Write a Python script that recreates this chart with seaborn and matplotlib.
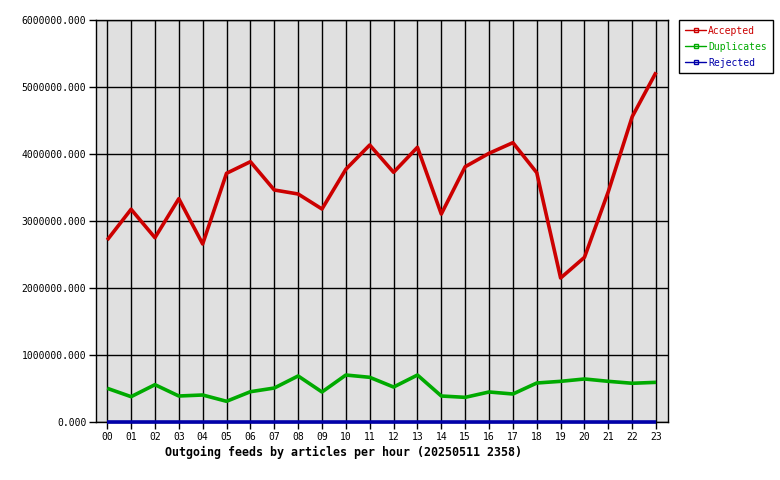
import matplotlib
matplotlib.use("Agg")
import matplotlib.pyplot as plt
from matplotlib.lines import Line2D
import seaborn as sns
import pandas as pd
import numpy as np

hours = list(range(24))
hour_labels = [f"{h:02d}" for h in hours]
accepted = [2.716, 3.175, 2.751, 3.333, 2.657, 3.712, 3.885, 3.463, 3.403, 3.179,
            3.772, 4.134, 3.727, 4.100, 3.104, 3.810, 4.010, 4.169, 3.721, 2.149,
            2.458, 3.440, 4.557, 5.219]
duplicates = [0.503, 0.378, 0.557, 0.388, 0.403, 0.309, 0.452, 0.507, 0.687, 0.448,
              0.701, 0.667, 0.522, 0.701, 0.388, 0.368, 0.448, 0.418, 0.582, 0.607,
              0.642, 0.607, 0.578, 0.592]
rejected = [0.0] * 24
series_names = ["Accepted", "Duplicates", "Rejected"]
colors = ["#cc0000", "#00aa00", "#0000aa"]
y_ticks = [0, 1e6, 2e6, 3e6, 4e6, 5e6, 6e6]

sns.set_theme(style="white")
plt.rcParams["font.family"] = ["DejaVu Sans Mono"]

df = pd.DataFrame({
    "hour": hours * 3,
    "value": [v * 1e6 for v in accepted + duplicates + rejected],
    "series": sum([[n] * 24 for n in series_names], []),
})

fig = plt.figure(figsize=(7.8, 4.8), dpi=100)
fig.patch.set_facecolor("white")
ax = fig.add_axes([96 / 780, 58 / 480, 572 / 780, 402 / 480])
ax.set_facecolor("#e0e0e0")

sns.lineplot(data=df, x="hour", y="value", hue="series", hue_order=series_names,
             palette=colors, linewidth=2.6, ax=ax, legend=False, zorder=3)
for ln in ax.get_lines():
    ln.set_clip_on(False)
    ln.set_solid_capstyle("butt")

ax.set_xlim(-0.47, 23.5)
ax.set_ylim(0, 6e6)
ax.set_xticks(hours)
ax.set_xticklabels(hour_labels)
ax.set_yticks(y_ticks)
ax.set_yticklabels([f"{t:.3f}" for t in y_ticks])
ax.grid(True, color="black", linewidth=1, zorder=1)
ax.set_axisbelow(True)
for s in ax.spines.values():
    s.set_color("black")
    s.set_linewidth(1)
    s.set_zorder(2)
ax.tick_params(axis="both", which="both", direction="out", length=5, width=1,
               color="black", labelsize=7, labelcolor="black", pad=2,
               bottom=True, left=True)
ax.set_xlabel("Outgoing feeds by articles per hour (20250511 2358)",
              fontsize=8.4, fontweight="bold", color="black")
ax.xaxis.set_label_coords(0.432, -0.06)
ax.set_ylabel("")

handles = [Line2D([0], [0], color=c, linewidth=1, marker="s", markersize=3,
                  markerfacecolor="none", markeredgecolor=c) for c in colors]
leg = fig.legend(handles, series_names, loc="upper left",
                 bbox_to_anchor=(679 / 780, 1 - 20 / 480), fontsize=7,
                 frameon=True, fancybox=False, framealpha=1, edgecolor="black",
                 handlelength=2.2, handletextpad=0.2, borderpad=0.6,
                 labelspacing=0.6, borderaxespad=0)
leg.get_frame().set_linewidth(1)
for t, c in zip(leg.get_texts(), colors):
    t.set_color(c)

fig.savefig("out.png", dpi=100)
